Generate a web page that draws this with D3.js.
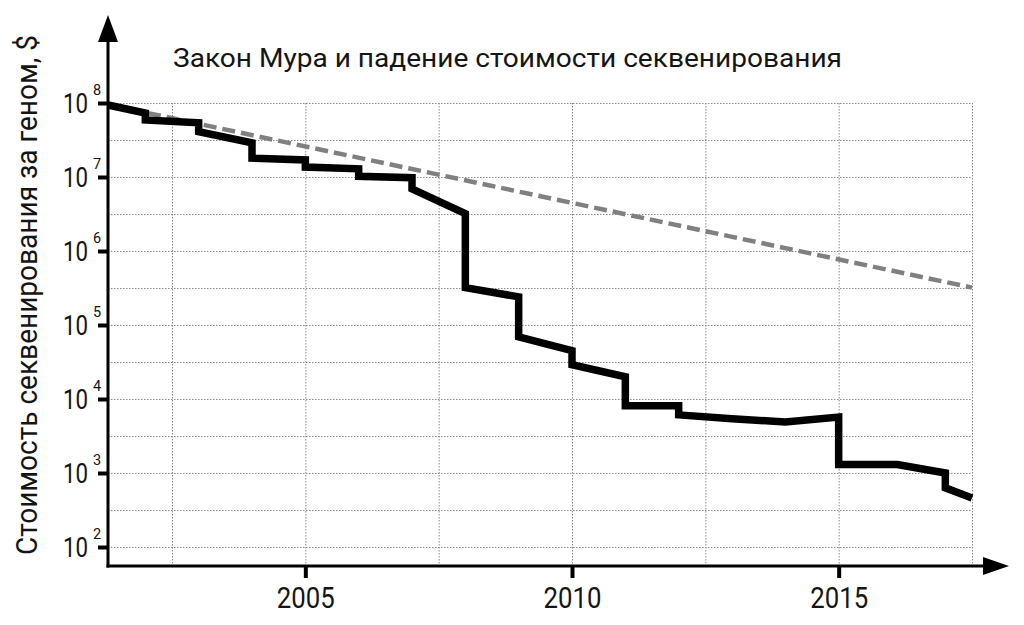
<!DOCTYPE html>
<html>
<head>
<meta charset="utf-8">
<script src="https://cdn.jsdelivr.net/npm/d3@7"></script>
<style>
  html, body { margin: 0; padding: 0; background: #fff; }
  svg { display: block; }
  text { font-family: "Roboto", "DejaVu Sans Condensed", sans-serif; font-weight: 400; fill: #151515; }
</style>
</head>
<body>
<svg id="chart" width="1024" height="625"></svg>
<script>
// ---- data ----
const title = "Закон Мура и падение стоимости секвенирования";
const yLabel = "Стоимость секвенирования за геном, $";
const xTickYears = [2005, 2010, 2015];
const yTickExponents = [2, 3, 4, 5, 6, 7, 8];
const xGridYears = [2002.5, 2005, 2007.5, 2010, 2012.5, 2015, 2017.5];
const yGridExponents = [2, 2.5, 3, 3.5, 4, 4.5, 5, 5.5, 6, 6.5, 7, 7.5, 8];

// cost per genome (step line)
const seqYears = [2001.3, 2002, 2002, 2003, 2003, 2004, 2004, 2005, 2005, 2006, 2006, 2007, 2007, 2008, 2008, 2009, 2009, 2010, 2010, 2011, 2011, 2012, 2012, 2013, 2014, 2015, 2015, 2016.1, 2017, 2017, 2017.5];
const seqCost  = [9.4e7, 7.3e7, 5.9e7, 5.4e7, 4.1e7, 2.9e7, 1.8e7, 1.7e7, 1.36e7, 1.29e7, 1.02e7, 9.8e6, 6.9e6, 3.2e6, 3.2e5, 2.4e5, 6.9e4, 4.5e4, 2.9e4, 2.0e4, 8.1e3, 8.1e3, 6.1e3, 5.4e3, 4.9e3, 5.7e3, 1.3e3, 1.3e3, 1.0e3, 6.3e2, 4.6e2];

// Moore's law trend
const mooreYears = [2002.05, 2017.5];
const mooreCost  = [7.3e7, 3.2e5];

// ---- layout ----
const svg = d3.select("#chart");
const x0 = 108, x1 = 972, yAxisY = 566;
const x = d3.scaleLinear().domain([2001.3, 2017.5]).range([x0, x1]);
const y = d3.scaleLog().domain([1e2, 1e8]).range([547, 103]);

// grid
const grid = svg.append("g").attr("stroke", "#8a8a8a").attr("stroke-width", 1).attr("stroke-dasharray", "1.5,1.5");
grid.selectAll("line.h").data(yGridExponents).join("line")
  .attr("class", "h")
  .attr("x1", x0).attr("x2", x1)
  .attr("y1", d => y(Math.pow(10, d)) + 0.5).attr("y2", d => y(Math.pow(10, d)) + 0.5);
grid.selectAll("line.v").data(xGridYears).join("line")
  .attr("class", "v")
  .attr("x1", d => x(d) + 0.5).attr("x2", d => x(d) + 0.5)
  .attr("y1", y(1e8)).attr("y2", yAxisY);

// Moore's law dashed line
svg.append("path")
  .datum(mooreYears.map((yr, i) => [yr, mooreCost[i]]))
  .attr("fill", "none")
  .attr("stroke", "#808080")
  .attr("stroke-width", 4.5)
  .attr("stroke-dasharray", "13,6")
  .attr("d", d3.line().x(d => x(d[0])).y(d => y(d[1])));

// sequencing cost line
svg.append("path")
  .datum(seqYears.map((yr, i) => [yr, seqCost[i]]))
  .attr("fill", "none")
  .attr("stroke", "#000")
  .attr("stroke-width", 7.5)
  .attr("stroke-linejoin", "miter")
  .attr("stroke-miterlimit", 10)
  .attr("d", d3.line().x(d => x(d[0])).y(d => y(d[1])));

// axes lines
svg.append("line").attr("x1", x0).attr("x2", x0).attr("y1", yAxisY + 1.5).attr("y2", 38)
  .attr("stroke", "#000").attr("stroke-width", 3);
svg.append("path").attr("d", `M${x0},15 L${x0 - 10},42 L${x0 + 10},42 Z`).attr("fill", "#000");
svg.append("line").attr("x1", x0 - 1.5).attr("x2", 988).attr("y1", yAxisY).attr("y2", yAxisY)
  .attr("stroke", "#000").attr("stroke-width", 3);
svg.append("path").attr("d", `M1009,${yAxisY} L983,${yAxisY - 9} L983,${yAxisY + 9} Z`).attr("fill", "#000");

// x axis ticks and labels
const xAxis = d3.axisBottom(x).tickValues(xTickYears).tickSize(12).tickPadding(9).tickFormat(d3.format("d"));
const gx = svg.append("g").attr("transform", `translate(0,${yAxisY})`).call(xAxis);
gx.select(".domain").remove();
gx.selectAll(".tick line").attr("stroke", "#000").attr("stroke-width", 4);
gx.selectAll(".tick text").attr("font-size", 29.5).attr("fill", "#151515")
  .attr("textLength", 58).attr("lengthAdjust", "spacingAndGlyphs")
  .style("font-family", '"Roboto", "DejaVu Sans Condensed", sans-serif')
  .style("font-weight", 400);

// y axis ticks and labels
const yAxis = d3.axisLeft(y).tickValues(yTickExponents.map(e => Math.pow(10, e))).tickSize(10).tickFormat("");
const gy = svg.append("g").attr("transform", `translate(${x0},0)`).call(yAxis);
gy.select(".domain").remove();
gy.selectAll(".tick line").attr("stroke", "#000").attr("stroke-width", 4);
const ylg = svg.append("g").selectAll("g").data(yTickExponents).join("g");
ylg.append("text")
  .attr("x", 63)
  .attr("y", d => y(Math.pow(10, d)) + 10)
  .attr("font-size", 28.5)
  .attr("textLength", 25).attr("lengthAdjust", "spacingAndGlyphs")
  .text("10");
ylg.append("text")
  .attr("x", 93)
  .attr("y", d => y(Math.pow(10, d)) - 8)
  .attr("font-size", 14.5)
  .text(d => d);

// title
svg.append("text").attr("x", 173).attr("y", 67).attr("font-size", 26)
  .attr("textLength", 669).attr("lengthAdjust", "spacingAndGlyphs")
  .text(title);

// y label
svg.append("text")
  .attr("transform", "translate(37,295) rotate(-90)")
  .attr("text-anchor", "middle")
  .attr("font-size", 29)
  .attr("textLength", 520).attr("lengthAdjust", "spacingAndGlyphs")
  .text(yLabel);
</script>
</body>
</html>
